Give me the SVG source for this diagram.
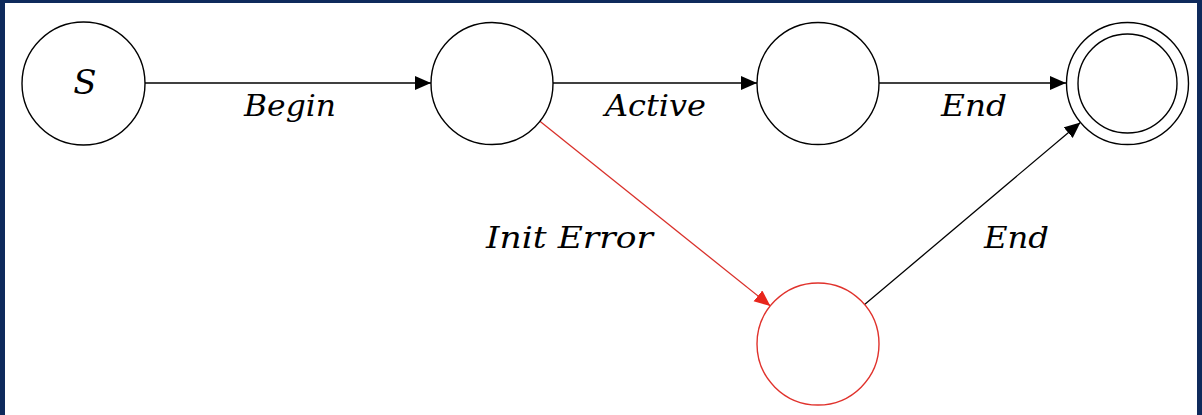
<svg xmlns="http://www.w3.org/2000/svg" width="1202" height="415" viewBox="0 0 1202 415">
<defs>
<style>
.node{fill:#fff;stroke:#000;stroke-width:1.4}
.err{fill:#fff;stroke:#e0322c;stroke-width:1.4}
.edge{fill:none;stroke:#000;stroke-width:1.3}
.edge-red{fill:none;stroke:#d9312b;stroke-width:1.3}
.lbl{font-family:"DejaVu Serif","Liberation Serif",serif;font-style:italic;font-size:30px;fill:#000}
</style>
<marker id="ah" markerUnits="userSpaceOnUse" markerWidth="17" markerHeight="15" refX="16" refY="7" orient="auto">
<path d="M0,0 L16,7 L0,14 z" fill="#000"/>
</marker>
<marker id="ahr" markerUnits="userSpaceOnUse" markerWidth="17" markerHeight="15" refX="16" refY="7" orient="auto">
<path d="M0,0 L16,7 L0,14 z" fill="#e8261c"/>
</marker>
</defs>
<rect x="0" y="0" width="1202" height="415" fill="#0e2a5c"/>
<rect x="5" y="3" width="1192" height="412" fill="#fff"/>
<g id="connectors">
<line class="edge" x1="145" y1="83" x2="431" y2="83" marker-end="url(#ah)"/>
<line class="edge" x1="553" y1="83" x2="757" y2="83" marker-end="url(#ah)"/>
<line class="edge" x1="879" y1="83" x2="1066" y2="83" marker-end="url(#ah)"/>
<line class="edge-red" x1="539.6" y1="121.1" x2="770.4" y2="305.9" marker-end="url(#ahr)"/>
<line class="edge" x1="864.6" y1="304.6" x2="1080.4" y2="122.4" marker-end="url(#ah)"/>
<text class="lbl" x="244" y="116" textLength="92" lengthAdjust="spacingAndGlyphs">Begin</text>
<text class="lbl" x="605" y="116" textLength="101" lengthAdjust="spacingAndGlyphs">Active</text>
<text class="lbl" x="941" y="116" textLength="66" lengthAdjust="spacingAndGlyphs">End</text>
<text class="lbl" x="486" y="248" textLength="167" lengthAdjust="spacingAndGlyphs">Init Error</text>
<text class="lbl" x="984" y="248" textLength="65" lengthAdjust="spacingAndGlyphs">End</text>
</g>
<g id="node-S">
<circle class="node" cx="83.5" cy="83.5" r="61.5"/>
<text class="lbl" x="85" y="94" text-anchor="middle" style="font-size:34px">S</text>
</g>
<g id="node-2"><circle class="node" cx="492" cy="83.5" r="61"/></g>
<g id="node-3"><circle class="node" cx="818" cy="83.5" r="61"/></g>
<g id="node-final">
<circle class="node" cx="1127.5" cy="83.5" r="61"/>
<circle class="node" cx="1127.5" cy="83.5" r="49.5"/>
</g>
<g id="node-error"><circle class="err" cx="818" cy="344" r="61"/></g>
</svg>
